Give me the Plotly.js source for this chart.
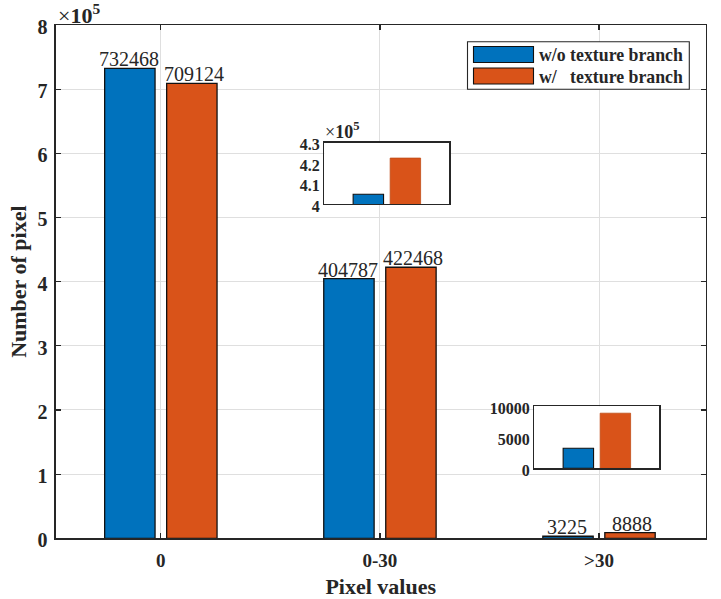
<!DOCTYPE html>
<html>
<head>
<meta charset="utf-8">
<script src="https://cdn.plot.ly/plotly-3.0.1.min.js"></script>
<style>html,body{margin:0;padding:0;background:#fff}</style>
</head>
<body>
<div id="chart" style="width:721px;height:599px"></div>
<script>
const categories = ['0', '0-30', '>30'];
const withoutTexture = [732468, 404787, 3225];
const withTexture = [709124, 422468, 8888];
const mainTicks = [0, 100000, 200000, 300000, 400000, 500000, 600000, 700000, 800000];
const mainTickText = ['0', '1', '2', '3', '4', '5', '6', '7', '8'];
const midTicks = [400000, 410000, 420000, 430000];
const midTickText = ['4', '4.1', '4.2', '4.3'];
const highTicks = [0, 5000, 10000];
const legendNames = ['w/o texture branch', 'w/&nbsp;&nbsp;&nbsp;texture branch'];

const BLUE = '#0072BD', RED = '#D95319', INK = '#262626';
const SERIF = '"Liberation Serif", "Times New Roman", serif';
const W = 721, H = 599;

// pixel box -> domain fraction
const xd = (a, b) => [a / W, b / W];
const yd = (top, bottom) => [1 - bottom / H, 1 - top / H];
const boldFont = (size) => ({family: SERIF, size: size, color: INK, weight: 700});

function mainBar(y, color, offset) {
    return {
        type: 'bar', x: categories, y: y, xaxis: 'x', yaxis: 'y',
        width: 0.23, offset: offset,
        marker: {color: color, line: {color: '#111', width: 1.3}},
        cliponaxis: false,
        hoverinfo: 'x+y'
    };
}

function insetBar(value, color, offset, line, ax) {
    return {
        type: 'bar', x: ['p'], y: [value], xaxis: 'x' + ax, yaxis: 'y' + ax,
        width: 0.23, offset: offset,
        marker: {color: color, line: line},
        hoverinfo: 'y'
    };
}

const blueLine = {color: '#111', width: 1.1};
const redLine = {color: '#c04d17', width: 0.8};

const traces = [
    mainBar(withoutTexture, BLUE, -0.2565),
    mainBar(withTexture, RED, 0.0265),
    insetBar(withoutTexture[1], BLUE, -0.255, blueLine, 2),
    insetBar(withTexture[1], RED, 0.025, redLine, 2),
    insetBar(withoutTexture[2], BLUE, -0.255, blueLine, 3),
    insetBar(withTexture[2], RED, 0.025, redLine, 3)
];

function insetX(a, b, anchor) {
    return {
        domain: xd(a, b), anchor: anchor, type: 'category', range: [-0.473, 0.472],
        showticklabels: false, ticks: '', showgrid: false, zeroline: false,
        showline: true, linecolor: INK, linewidth: 1.3, mirror: true
    };
}
function insetY(top, bottom, anchor, range, vals, text) {
    return {
        domain: yd(top, bottom), anchor: anchor, range: range,
        tickvals: vals, ticktext: text, tickfont: boldFont(16), ticks: '',
        showgrid: false, zeroline: false, ticklabelstandoff: 0, ticklabelshift: 2,
        showline: true, linecolor: INK, linewidth: 1.3, mirror: true
    };
}

function legendRow(top, color) {
    return {type: 'rect', xref: 'paper', yref: 'paper', layer: 'above',
        x0: 473.5 / W, x1: 533.5 / W, y0: 1 - (top + 16) / H, y1: 1 - top / H,
        fillcolor: color, line: {color: '#111', width: 1.1}};
}
function legendLabel(top, text) {
    return {xref: 'paper', yref: 'paper', x: 537 / W, y: 1 - top / H, xanchor: 'left', yanchor: 'middle',
        text: text, showarrow: false, font: boldFont(17.8)};
}
function exponent(px, py, size) {
    return {xref: 'paper', yref: 'paper', x: px / W, y: 1 - py / H, xanchor: 'left', yanchor: 'middle',
        text: '×<b>10<sup>5</sup></b>', showarrow: false, font: {family: SERIF, size: size, color: INK}};
}
function valueLabel(cat, value, shift) {
    return {xref: 'x', yref: 'y', x: cat, y: value, xshift: shift, yshift: -3, yanchor: 'bottom',
        text: String(value), showarrow: false, borderpad: 0,
        font: {family: SERIF, size: 20, color: INK}};
}

const layout = {
    width: W, height: H,
    margin: {l: 0, r: 0, t: 0, b: 0},
    paper_bgcolor: '#fff', plot_bgcolor: '#fff',
    showlegend: false,
    barmode: 'group',
    font: {family: SERIF, color: INK},
    xaxis: {
        domain: xd(55.7, 705.7), anchor: 'y', type: 'category', range: [-0.48, 2.487],
        tickfont: boldFont(19), ticks: 'inside', ticklen: 5, tickcolor: INK, tickwidth: 1.2,
        ticklabelstandoff: 5,
        showgrid: true, gridcolor: '#dfdfdf', gridwidth: 1, zeroline: false,
        showline: true, linecolor: INK, linewidth: 1.3, mirror: 'ticks',
        title: {text: 'Pixel values', font: boldFont(22), standoff: 8}
    },
    yaxis: {
        domain: yd(25, 538.3), anchor: 'x', range: [0, 800000],
        tickvals: mainTicks, ticktext: mainTickText, tickfont: boldFont(20),
        ticks: 'inside', ticklen: 5, tickcolor: INK, tickwidth: 1.2,
        ticklabelstandoff: 3, ticklabelshift: 2,
        showgrid: true, gridcolor: '#dfdfdf', gridwidth: 1, zeroline: false,
        showline: true, linecolor: INK, linewidth: 1.3, mirror: 'ticks',
        title: {text: 'Number of pixel', font: boldFont(22), standoff: 4}
    },
    xaxis2: insetX(324.3, 449.3, 'y2'),
    yaxis2: insetY(142.7, 204, 'x2', [400000, 430000], midTicks, midTickText),
    xaxis3: insetX(534.3, 659.3, 'y3'),
    yaxis3: insetY(406.3, 468.3, 'x3', [0, 10000], highTicks, highTicks.map(String)),
    shapes: [
        {type: 'rect', xref: 'paper', yref: 'paper', layer: 'above',
         x0: 467.5 / W, x1: 689.3 / W, y0: 1 - 89.3 / H, y1: 1 - 41.7 / H,
         fillcolor: '#fff', line: {color: INK, width: 1.1}},
        legendRow(46.5, BLUE),
        legendRow(68, RED)
    ],
    annotations: [
        legendLabel(55.5, legendNames[0]),
        legendLabel(77, legendNames[1]),
        exponent(56, 14, 22),
        exponent(323, 130, 18)
    ].concat(
        categories.map((c, i) => valueLabel(c, withoutTexture[i], -32)),
        categories.map((c, i) => valueLabel(c, withTexture[i], 33))
    )
};

Plotly.newPlot('chart', traces, layout, {staticPlot: true, displayModeBar: false});
</script>
</body>
</html>
